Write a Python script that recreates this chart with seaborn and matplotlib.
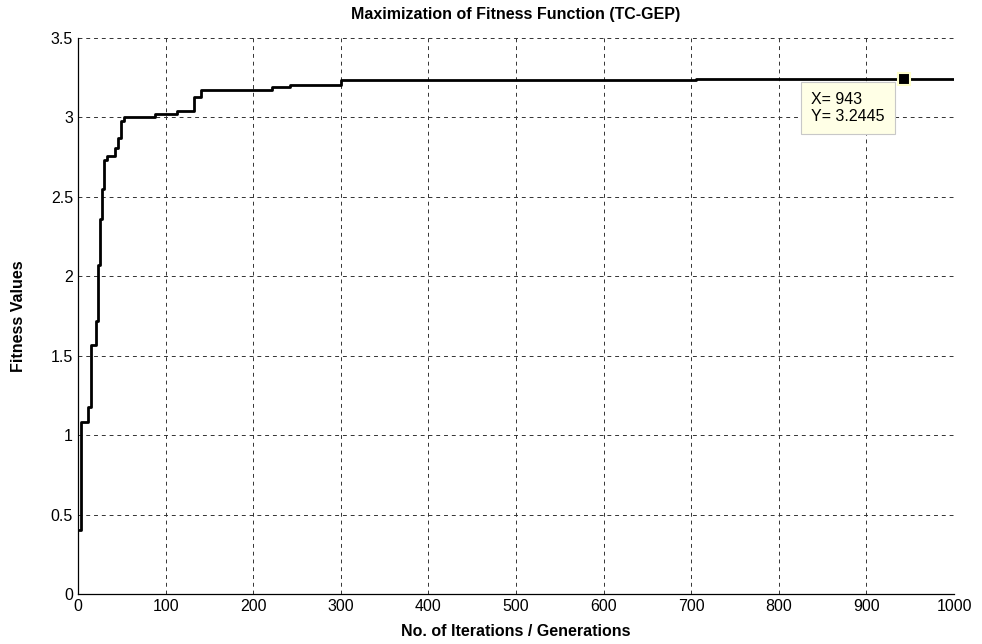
import numpy as np
import pandas as pd
import seaborn as sns
import matplotlib.pyplot as plt

# step points of the best fitness curve
generations = [1, 3.5, 12, 14.5, 20.5, 23, 25, 27.7, 30, 33.5, 42, 46, 49, 53,
               88, 113, 132, 140, 222, 242, 300, 706, 1000]
fitness = [0.40, 1.08, 1.18, 1.57, 1.72, 2.07, 2.36, 2.55, 2.73, 2.76, 2.81,
           2.87, 2.98, 3.0, 3.02, 3.04, 3.13, 3.175, 3.19, 3.205, 3.235,
           3.2445, 3.2445]
tip_x = 943
tip_y = 3.2445
x_ticks = list(range(0, 1001, 100))
y_ticks = [0, 0.5, 1, 1.5, 2, 2.5, 3, 3.5]

df = pd.DataFrame({'Generation': generations, 'Fitness': fitness})

sns.set_style('white')
plt.rcParams['font.family'] = ['Liberation Sans', 'DejaVu Sans']
plt.rcParams['text.color'] = 'black'
plt.rcParams['axes.labelcolor'] = 'black'

fig = plt.figure(figsize=(9.82, 6.44), dpi=100)
ax = fig.add_axes([0.0794, 0.0776, 0.8921, 0.8634])

sns.lineplot(data=df, x='Generation', y='Fitness', drawstyle='steps-post',
             color='black', linewidth=2.0, ax=ax)

ax.set_xlim(0, 1000)
ax.set_ylim(0, 3.5)
ax.set_xticks(x_ticks)
ax.set_yticks(y_ticks)
ax.set_yticklabels(['0', '0.5', '1', '1.5', '2', '2.5', '3', '3.5'])
ax.tick_params(direction='in', length=5, width=0.8, labelsize=11.5, colors='black')

# dashed grid, no top/right box
ax.grid(True, color='#333333', linestyle=(0, (4, 4)), linewidth=0.7)
ax.set_axisbelow(True)
for s in ['top', 'right']:
    ax.spines[s].set_visible(False)
for s in ['left', 'bottom']:
    ax.spines[s].set_color('black')
    ax.spines[s].set_linewidth(0.9)

ax.set_title('Maximization of Fitness Function (TC-GEP)', fontsize=11.5,
             fontweight='bold', pad=14, color='black')
ax.set_xlabel('No. of Iterations / Generations', fontsize=11.5, fontweight='bold',
              labelpad=7, color='black')
ax.set_ylabel('Fitness Values', fontsize=11.5, fontweight='bold', labelpad=18,
              color='black')

# data tip
ax.plot([tip_x], [tip_y], marker='s', markersize=9, color='black',
        markeredgecolor='#ffffcc', markeredgewidth=1.5, zorder=5)
ax.text(tip_x - 106, tip_y - 0.085, 'X= %d\nY= %.4f' % (tip_x, tip_y),
        fontsize=11.5, va='top', ha='left', linespacing=1.15, zorder=6,
        color='black',
        bbox=dict(boxstyle='square,pad=0.65', facecolor='#ffffe6',
                  edgecolor='#c8c8c8', linewidth=0.8))

plt.savefig('out.png', dpi=100)
